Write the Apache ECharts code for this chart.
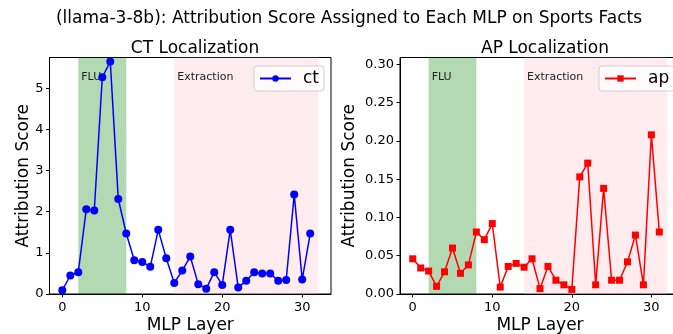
<!DOCTYPE html>
<html><head><meta charset="utf-8">
<script src="https://cdn.jsdelivr.net/npm/echarts@6/dist/echarts.min.js"></script>
<style>html,body{margin:0;padding:0;background:#fff}#c{width:673px;height:334px}</style>
</head><body><div id="c"></div>
<script>
const layers = Array.from({length: 32}, (_, i) => i);
const ctScores = [0.09,0.45,0.53,2.06,2.03,5.27,5.65,2.31,1.47,0.82,0.78,0.66,1.56,0.87,0.27,0.57,0.91,0.24,0.13,0.53,0.22,1.56,0.16,0.32,0.53,0.50,0.50,0.32,0.34,2.42,0.35,1.47];
const apScores = [0.046,0.034,0.030,0.010,0.029,0.060,0.027,0.038,0.081,0.071,0.092,0.009,0.036,0.040,0.035,0.046,0.007,0.036,0.018,0.012,0.006,0.153,0.171,0.012,0.138,0.018,0.018,0.042,0.077,0.012,0.208,0.081];
const fluSpan = [2, 8];
const extractionSpan = [14, 32];
const xTicks = [0, 10, 20, 30];
const ctTicks = [0, 1, 2, 3, 4, 5];
const apTicks = [0, 0.05, 0.10, 0.15, 0.20, 0.25, 0.30];

const FONT = 'DejaVu Sans';
const chart = echarts.init(document.getElementById('c'), null, {renderer: 'canvas'});

function xAxis(gi) {
  return {
    type: 'value', gridIndex: gi, min: -1.6, max: 33.6,
    name: 'MLP Layer', nameLocation: 'middle', nameGap: 23, nameMoveOverlap: false,
    nameTextStyle: {fontFamily: FONT, fontSize: 17, color: '#000'},
    axisLine: {show: true, onZero: false, lineStyle: {color: '#000', width: 1}},
    axisTick: {show: true, length: 3.5, inside: false, customValues: xTicks, lineStyle: {color: '#000'}},
    axisLabel: {customValues: xTicks, fontFamily: FONT, fontSize: 13, color: '#000', margin: 7},
    splitLine: {show: false}
  };
}
function yAxis(gi, max, ticks, fmt, gap) {
  return {
    type: 'value', gridIndex: gi, min: 0, max: max,
    name: 'Attribution Score', nameLocation: 'middle', nameGap: gap, nameMoveOverlap: false,
    nameTextStyle: {fontFamily: FONT, fontSize: 17, color: '#000'},
    axisLine: {show: true, onZero: false, lineStyle: {color: '#000', width: 1}},
    axisTick: {show: true, length: 3.5, customValues: ticks, lineStyle: {color: '#000'}},
    axisLabel: {customValues: ticks, formatter: fmt, fontFamily: FONT, fontSize: 13, color: '#000', margin: 6},
    splitLine: {show: false}
  };
}
function spans() {
  const lab = {show: true, position: 'insideTopLeft', distance: 0, offset: [3, 14],
               fontFamily: FONT, fontSize: 11, color: '#222'};
  return {
    silent: true,
    data: [
      [{xAxis: fluSpan[0], itemStyle: {color: 'rgba(0,128,0,0.3)'}, label: Object.assign({formatter: 'FLU'}, lab)}, {xAxis: fluSpan[1]}],
      [{xAxis: extractionSpan[0], itemStyle: {color: 'rgba(255,192,203,0.3)'}, label: Object.assign({formatter: 'Extraction'}, lab)}, {xAxis: extractionSpan[1]}]
    ]
  };
}
const legendBase = {
  orient: 'horizontal', top: 66, itemWidth: 31, itemHeight: 8,
  padding: [4, 5, 4, 5], borderColor: '#d0d0d0', borderWidth: 1, borderRadius: 3,
  backgroundColor: 'rgba(255,255,255,0.8)',
  textStyle: {fontFamily: FONT, fontSize: 17, color: '#000', padding: [0, 0, 0, 7]}
};

chart.setOption({
  animation: false,
  backgroundColor: '#fff',
  title: [
    {text: '(llama-3-8b): Attribution Score Assigned to Each MLP on Sports Facts', left: 344, top: 5, textAlign: 'center',
     textStyle: {fontFamily: FONT, fontSize: 17, fontWeight: 'normal', color: '#000'}},
    {text: 'CT Localization', left: 190, top: 35, textAlign: 'center',
     textStyle: {fontFamily: FONT, fontSize: 17, fontWeight: 'normal', color: '#000'}},
    {text: 'AP Localization', left: 540, top: 35, textAlign: 'center',
     textStyle: {fontFamily: FONT, fontSize: 17, fontWeight: 'normal', color: '#000'}}
  ],
  legend: [
    Object.assign({}, legendBase, {data: ['ct'], left: 254}),
    Object.assign({}, legendBase, {data: ['ap'], left: 599})
  ],
  grid: [
    {left: 49.5, top: 57.5, width: 281.5, height: 236.5, show: true, borderColor: '#000', borderWidth: 1,
     backgroundColor: 'transparent', outerBoundsMode: 'none', containLabel: false},
    {left: 400, top: 57.5, width: 280, height: 236.5, show: true, borderColor: '#000', borderWidth: 1,
     backgroundColor: 'transparent', outerBoundsMode: 'none', containLabel: false}
  ],
  xAxis: [xAxis(0), xAxis(1)],
  yAxis: [
    yAxis(0, 5.75, ctTicks, v => String(Math.round(v)), 17),
    yAxis(1, 0.309, apTicks, v => v.toFixed(2), 42)
  ],
  series: [
    {name: 'ct', type: 'line', xAxisIndex: 0, yAxisIndex: 0,
     data: layers.map((l, i) => [l, ctScores[i]]),
     symbol: 'circle', symbolSize: 8,
     lineStyle: {color: '#0000ff', width: 1.5}, itemStyle: {color: '#0000ff'},
     markArea: spans(), z: 3},
    {name: 'ap', type: 'line', xAxisIndex: 1, yAxisIndex: 1,
     data: layers.map((l, i) => [l, apScores[i]]),
     symbol: 'rect', symbolSize: 7,
     lineStyle: {color: '#ff0000', width: 1.5}, itemStyle: {color: '#ff0000'},
     markArea: spans(), z: 3}
  ]
});
</script></body></html>
